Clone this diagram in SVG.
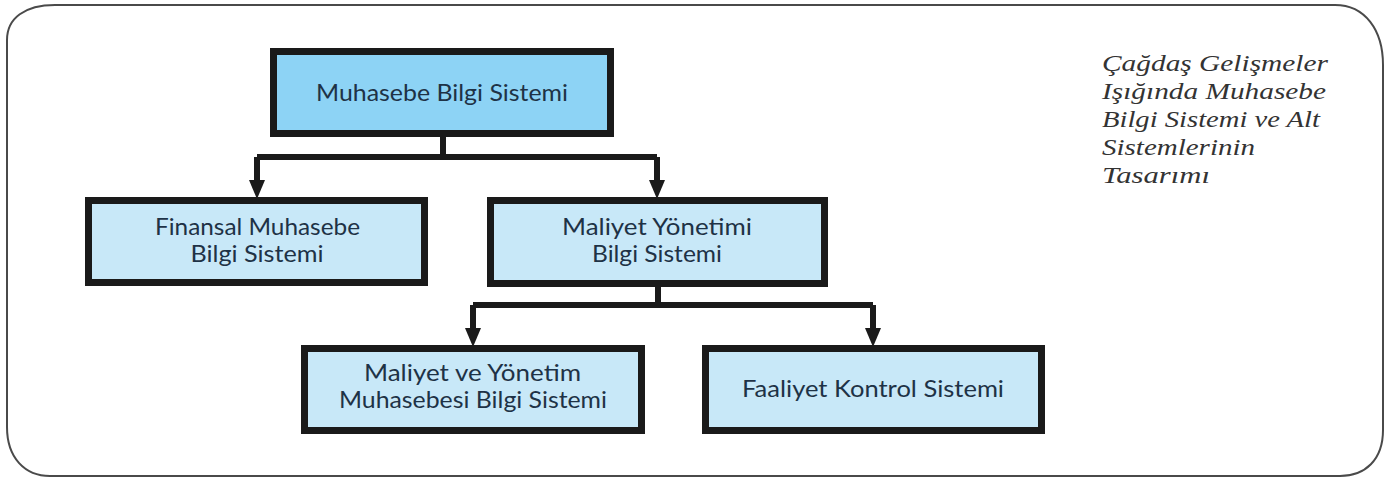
<svg xmlns="http://www.w3.org/2000/svg" width="1392" height="477" viewBox="0 0 1392 477">
<defs>
<style>
.box{stroke:#1a1a1a;stroke-width:7;}
.top{fill:#8dd3f5;}
.sub{fill:#c8e8f8;}
.lbl{font-family:"Lato","Open Sans",sans-serif;font-size:24px;fill:#1e3246;text-anchor:middle;}
.sm{font-size:23px;}
.side{font-family:"Liberation Serif","DejaVu Serif",serif;font-style:italic;font-size:23px;fill:#333333;}
.conn{fill:none;stroke:#1a1a1a;stroke-width:6;stroke-linejoin:miter;}
.head{fill:#1a1a1a;}
</style>
</defs>
<rect x="0" y="0" width="1392" height="477" fill="#ffffff"/>
<path d="M55,5 L1335,5 C1365,5 1383,30 1383,65 L1383,430 C1383,460 1365,476 1340,476 L50,476 C25,476 7,458 7,427 L7,40 C7,18 25,5 55,5 Z" fill="none" stroke="#4a4a4a" stroke-width="2"/>
<g id="connectors">
<path class="conn" d="M443,137 V157 M257,157 H657 M257,157 V182 M657,157 V182"/>
<polygon class="head" points="249,180 265,180 257,199"/>
<polygon class="head" points="649,180 665,180 657,199"/>
<path class="conn" d="M658,287 V305 M473,305 H873 M473,305 V330 M873,305 V330"/>
<polygon class="head" points="465,328 481,328 473,347"/>
<polygon class="head" points="865,328 881,328 873,347"/>
</g>
<g id="node-muhasebe">
<rect class="box top" x="273.5" y="51.5" width="337" height="82"/>
<text class="lbl" x="442" y="101" textLength="252" lengthAdjust="spacingAndGlyphs">Muhasebe Bilgi Sistemi</text>
</g>
<g id="node-finansal">
<rect class="box sub" x="88.5" y="200.5" width="336" height="82"/>
<text class="lbl" x="257.5" y="235" textLength="205" lengthAdjust="spacingAndGlyphs">Finansal Muhasebe</text>
<text class="lbl" x="257" y="262" textLength="133" lengthAdjust="spacingAndGlyphs">Bilgi Sistemi</text>
</g>
<g id="node-maliyet-yonetimi">
<rect class="box sub" x="490.5" y="200.5" width="334" height="83"/>
<text class="lbl" x="657" y="235" textLength="190" lengthAdjust="spacingAndGlyphs">Maliyet Yönetimi</text>
<text class="lbl" x="657" y="262" textLength="130" lengthAdjust="spacingAndGlyphs">Bilgi Sistemi</text>
</g>
<g id="node-maliyet-ve-yonetim">
<rect class="box sub" x="304.5" y="348.5" width="337" height="82"/>
<text class="lbl sm" x="472.5" y="381" textLength="217" lengthAdjust="spacingAndGlyphs">Maliyet ve Yönetim</text>
<text class="lbl sm" x="473" y="408" textLength="268" lengthAdjust="spacingAndGlyphs">Muhasebesi Bilgi Sistemi</text>
</g>
<g id="node-faaliyet">
<rect class="box sub" x="705.5" y="348.5" width="336" height="82"/>
<text class="lbl" x="873" y="397" textLength="262" lengthAdjust="spacingAndGlyphs">Faaliyet Kontrol Sistemi</text>
</g>
<g id="caption">
<text class="side" x="1102" y="71" textLength="226" lengthAdjust="spacingAndGlyphs">Çağdaş Gelişmeler</text>
<text class="side" x="1102" y="99" textLength="224" lengthAdjust="spacingAndGlyphs">Işığında Muhasebe</text>
<text class="side" x="1102" y="127" textLength="218" lengthAdjust="spacingAndGlyphs">Bilgi Sistemi ve Alt</text>
<text class="side" x="1102" y="155" textLength="153" lengthAdjust="spacingAndGlyphs">Sistemlerinin</text>
<text class="side" x="1102" y="183" textLength="108" lengthAdjust="spacingAndGlyphs">Tasarımı</text>
</g>
</svg>
